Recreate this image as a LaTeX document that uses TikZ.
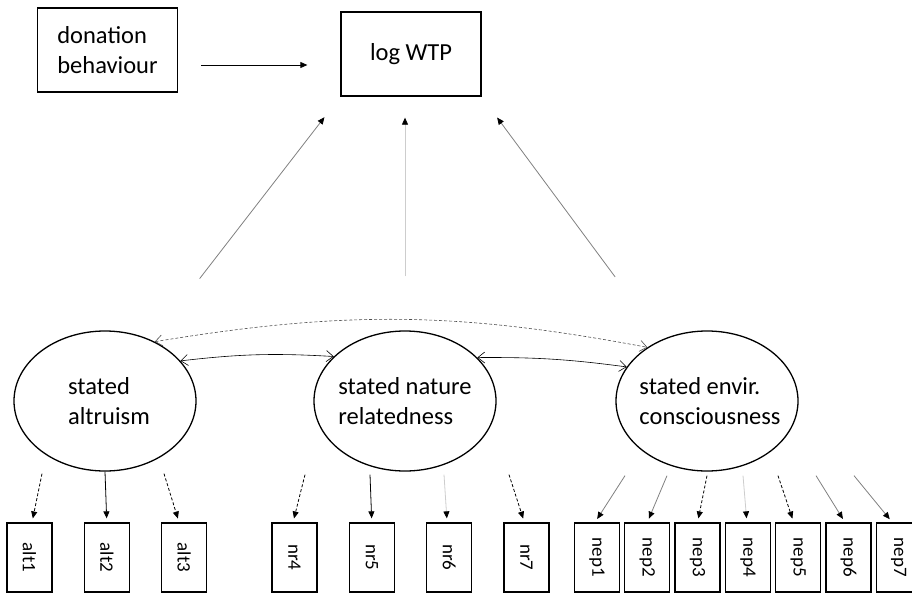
\documentclass[tikz,border=0pt]{standalone}
\usepackage{fontspec}
\setmainfont{Carlito}
\usetikzlibrary{positioning,arrows.meta,shapes.geometric}
\definecolor{PathGrey}{RGB}{128,128,128}
\definecolor{FaintGrey}{RGB}{205,205,205}

\begin{document}
\begin{tikzpicture}[x=1pt, y=-1pt, line width=0.8pt,
  every node/.style={font=\fontsize{24.5}{30.5}\selectfont, align=left},
  obs/.style={draw, line width=1.3pt, minimum width=140pt, minimum height=84pt},
  latent/.style={draw, ellipse, line width=1.3pt, inner sep=0pt, minimum width=182pt, minimum height=140pt},
  ind/.style={draw, line width=1.3pt, inner sep=0pt, minimum width=45pt, minimum height=69pt, font=\fontsize{19}{22}\selectfont},
  tip/.style={-{Triangle[length=7pt,width=6pt,color=black]}},
  load/.style={tip, shorten >=4pt},
  dashline/.style={dash pattern=on 3pt off 2pt},
  cov/.style={{Straight Barb[length=7pt,width=11pt]}-{Straight Barb[length=7pt,width=11pt]}, line width=0.6pt}]
  \useasboundingbox (0,0) rectangle (912,594);

  % observed variables at the top
  \node[obs] (don) at (107.5,50) {donation\\behaviour};
  \node[obs, align=center] (wtp) at (411,54) {log WTP};

  % latent constructs
  \node[latent, label={[xshift=4pt]center:stated\\altruism}] (alt) at (105,401) {};
  \node[latent, label={center:stated nature\\relatedness}] (nr) at (405,401) {};
  \node[latent, label={[xshift=3pt]center:stated envir.\\consciousness}] (env) at (707,401) {};

  % indicators
  \node[ind] (alt1) at (29.5,557.5) {\rotatebox{-90}{alt1}};
  \node[ind, right=31pt of alt1] (alt2) {\rotatebox{-90}{alt2}};
  \node[ind, right=31pt of alt2] (alt3) {\rotatebox{-90}{alt3}};
  \node[ind] (nr4) at (294.5,557.5) {\rotatebox{-90}{nr4}};
  \node[ind, right=31pt of nr4] (nr5) {\rotatebox{-90}{nr5}};
  \node[ind, right=31pt of nr5] (nr6) {\rotatebox{-90}{nr6}};
  \node[ind, right=31pt of nr6] (nr7) {\rotatebox{-90}{nr7}};
  \node[ind] (nep1) at (597,557.5) {\rotatebox{-90}{nep1}};
  \node[ind, right=4pt of nep1] (nep2) {\rotatebox{-90}{nep2}};
  \node[ind, right=4pt of nep2] (nep3) {\rotatebox{-90}{nep3}};
  \node[ind, right=4pt of nep3] (nep4) {\rotatebox{-90}{nep4}};
  \node[ind, right=4pt of nep4] (nep5) {\rotatebox{-90}{nep5}};
  \node[ind, right=4pt of nep5] (nep6) {\rotatebox{-90}{nep6}};
  \node[ind, right=4pt of nep6] (nep7) {\rotatebox{-90}{nep7}};

  % structural paths
  \draw[tip, transform canvas={yshift=-15pt}, shorten <=23pt, shorten >=33pt] (don.east) -- (don.east -| wtp.west);
  \draw[tip, PathGrey, shorten <=78pt, shorten >=26pt] (alt) -- (wtp.south west);
  \draw[tip, FaintGrey, shorten <=54pt, shorten >=21pt] (nr) -- (nr |- wtp.south);
  \draw[tip, PathGrey, shorten <=78pt, shorten >=26pt] (env) -- (wtp.south east);

  % correlations between the constructs
  \draw[cov] (alt.28) to[bend left=5] (nr.148);
  \draw[cov] (nr.31) to[bend left=4] (env.157);
  \draw[cov, dashline, PathGrey!60!black] (alt.50) to[bend left=10] (env.138);

  % loadings
  \draw[load, dashline] ([xshift=-63pt,yshift=-2pt]alt.south) -- ([xshift=2.5pt]alt1.north);
  \draw[load] (alt.south) -- (alt2.north);
  \draw[load, dashline] ([xshift=59pt,yshift=-2pt]alt.south) -- ([xshift=-5pt]alt3.north);
  \draw[load, dashline] ([xshift=-100pt,yshift=-3pt]nr.south) -- ([xshift=-1.5pt]nr4.north);
  \draw[load] ([xshift=-35pt,yshift=-3pt]nr.south) -- (nr5.north);
  \draw[load, FaintGrey] ([xshift=39pt,yshift=-3pt]nr.south) -- ([xshift=-2pt]nr6.north);
  \draw[load, dashline] ([xshift=104pt,yshift=-3pt]nr.south) -- ([xshift=-2pt]nr7.north);
  \draw[load, PathGrey] ([xshift=-82pt,yshift=-4pt]env.south) -- ([xshift=-2pt]nep1.north);
  \draw[load, PathGrey] ([xshift=-40pt,yshift=-4pt]env.south) -- (nep2.north);
  \draw[load, dashline] ([yshift=-4pt]env.south) -- (nep3.north);
  \draw[load, FaintGrey] ([xshift=36pt,yshift=-4pt]env.south) -- ([xshift=-1pt]nep4.north);
  \draw[load, dashline] ([xshift=71pt,yshift=-4pt]env.south) -- ([xshift=-4.5pt]nep5.north);
  \draw[load, PathGrey] ([xshift=109pt,yshift=-4pt]env.south) -- ([xshift=-3.5pt]nep6.north);
  \draw[load, PathGrey] ([xshift=147pt,yshift=-4pt]env.south) -- ([xshift=-6.5pt]nep7.north);
\end{tikzpicture}
\end{document}
